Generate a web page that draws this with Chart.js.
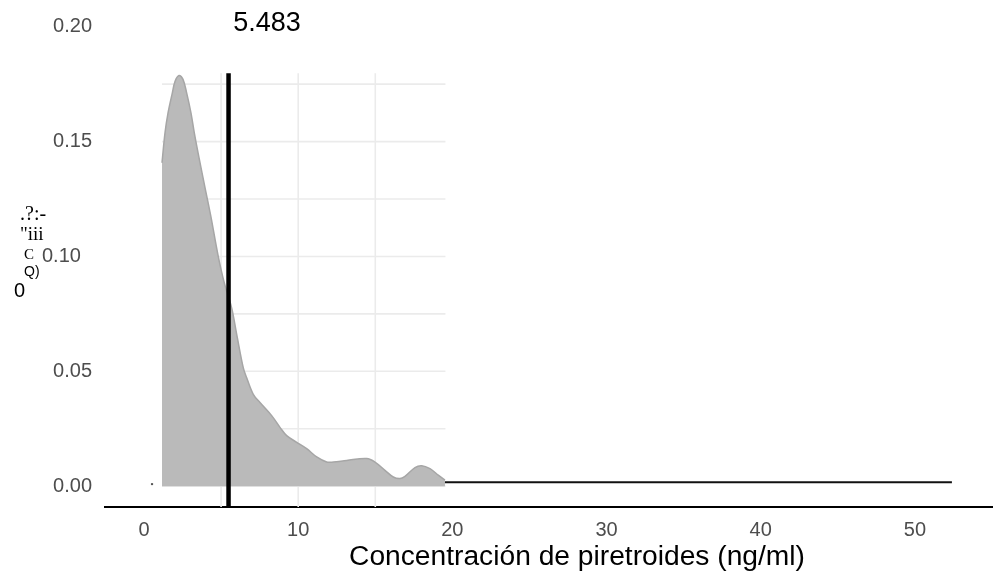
<!DOCTYPE html>
<html>
<head>
<meta charset="utf-8">
<style>
html,body{margin:0;padding:0;background:#fff;}
canvas{display:block;}
</style>
<script src="https://cdn.jsdelivr.net/npm/chart.js@4/dist/chart.umd.min.js"></script>
</head>
<body>
<canvas id="c" width="997" height="582"></canvas>
<script>
// ---- data ----
const densityX = [1.167, 1.362, 1.556, 1.835, 2.010, 2.270, 2.529, 2.769, 3.048, 3.262, 3.567, 3.956, 4.345, 4.799, 5.188, 5.687, 6.012, 6.440, 6.660, 7.088, 7.523, 8.281, 8.820, 9.254, 9.903, 10.551, 11.200, 11.848, 12.276, 13.145, 14.442, 14.981, 15.629, 16.167, 16.602, 16.926, 17.575, 18.009, 18.547, 19.086, 19.520];
const densityY = [0.1408, 0.1538, 0.1624, 0.1711, 0.1762, 0.1788, 0.1771, 0.1711, 0.1624, 0.1538, 0.1430, 0.1300, 0.1171, 0.1006, 0.0890, 0.0775, 0.0661, 0.0515, 0.0472, 0.0400, 0.0364, 0.0307, 0.0256, 0.0220, 0.0191, 0.0163, 0.0127, 0.0105, 0.0105, 0.0112, 0.0120, 0.0105, 0.0069, 0.0040, 0.0033, 0.0043, 0.0081, 0.0089, 0.0076, 0.0048, 0.0026];
const meanValue = 5.483;
const meanLineTop = 0.1797;
const tailX = [19.52, 52.4];
const tailY = [0.0017, 0.0017];
const strayPointX = [0.52];
const strayPointY = [0.0009];
const xTicks = [0, 10, 20, 30, 40, 50];
const yTicks = [0, 0.05, 0.10, 0.15, 0.20];
const gridX = [5, 10, 15];
const gridY = [0, 0.025, 0.05, 0.075, 0.10, 0.125, 0.15, 0.175];
const panelX = [1.167, 19.55];
const xTitle = 'Concentración de piretroides (ng/ml)';
const topLabel = '5.483';
const yTitleBits = ['.?:-', '"iii', 'C', 'Q)', '0'];

const X_MIN = -2.53, X_MAX = 55;
const Y_MIN = -0.00907, Y_MAX = 0.2099;

const SANS = '"Liberation Sans", Arial, sans-serif';
const SERIF = '"Liberation Serif", "Times New Roman", serif';

const panelGrid = {
  id: 'panelGrid',
  beforeDatasetsDraw(chart) {
    const {ctx, scales: {x, y}} = chart;
    ctx.save();
    ctx.strokeStyle = '#ebebeb';
    ctx.lineWidth = 1.6;
    const top = y.getPixelForValue(meanLineTop);
    const bottom = chart.chartArea.bottom;
    gridX.forEach(v => {
      const px = x.getPixelForValue(v);
      ctx.beginPath(); ctx.moveTo(px, top); ctx.lineTo(px, bottom); ctx.stroke();
    });
    const l = x.getPixelForValue(panelX[0]), r = x.getPixelForValue(panelX[1]);
    gridY.forEach(v => {
      const py = y.getPixelForValue(v);
      ctx.beginPath(); ctx.moveTo(l, py); ctx.lineTo(r, py); ctx.stroke();
    });
    ctx.restore();
  }
};

const texts = {
  id: 'texts',
  afterDraw(chart) {
    const ctx = chart.ctx;
    ctx.save();
    ctx.fillStyle = '#000';
    ctx.textBaseline = 'middle';
    ctx.textAlign = 'center';
    ctx.font = '27px ' + SANS;
    ctx.fillText(topLabel, 267, 24);
    let fs = 27;
    ctx.font = fs + 'px ' + SANS;
    const w = ctx.measureText(xTitle).width;
    fs = Math.max(20, Math.min(30, fs * 456 / w));
    ctx.font = fs.toFixed(1) + 'px ' + SANS;
    ctx.fillText(xTitle, 577, 557);
    ctx.textAlign = 'left';
    ctx.font = '20px ' + SERIF;
    ctx.fillText(yTitleBits[0], 20, 215);
    ctx.font = '19px ' + SERIF;
    ctx.fillText(yTitleBits[1], 20, 235);
    ctx.font = '15px ' + SERIF;
    ctx.fillText(yTitleBits[2], 24, 255);
    ctx.font = '14px ' + SANS;
    ctx.fillText(yTitleBits[3], 24, 272);
    ctx.font = '20px ' + SANS;
    ctx.fillText(yTitleBits[4], 14, 291);
    ctx.restore();
  }
};

const zip = (xs, ys) => xs.map((v, i) => ({x: v, y: ys[i]}));

new Chart(document.getElementById('c'), {
  type: 'scatter',
  data: {
    datasets: [
      {
        data: zip(densityX, densityY),
        showLine: true, fill: 'origin',
        backgroundColor: '#bababa', borderColor: '#a6a6a6', borderWidth: 1.5,
        pointRadius: 0, tension: 0.35, order: 3
      },
      {
        data: [{x: meanValue, y: Y_MIN}, {x: meanValue, y: meanLineTop}],
        showLine: true, borderColor: '#000', borderWidth: 4.5,
        pointRadius: 0, order: 0
      },
      {
        data: zip(tailX, tailY),
        showLine: true, borderColor: '#111', borderWidth: 2,
        pointRadius: 0, order: 1
      },
      {
        data: zip(strayPointX, strayPointY),
        showLine: false, pointRadius: 1.2, backgroundColor: '#555', borderWidth: 0, order: 1
      }
    ]
  },
  options: {
    responsive: false,
    animation: false,
    devicePixelRatio: 1,
    layout: {padding: {left: 0, right: 5, top: 0, bottom: 0}},
    plugins: {legend: {display: false}, tooltip: {enabled: false}},
    scales: {
      x: {
        type: 'linear', min: X_MIN, max: X_MAX,
        grid: {display: false, drawTicks: false},
        border: {display: true, color: '#000', width: 2},
        ticks: {font: {size: 20, family: SANS}, color: '#4d4d4d', padding: 11, autoSkip: false, maxRotation: 0,
                callback: v => String(v)},
        afterBuildTicks: s => { s.ticks = xTicks.map(v => ({value: v})); },
        afterFit: s => { s.height = 75; s.paddingLeft = 0; s.paddingRight = 0; }
      },
      y: {
        type: 'linear', min: Y_MIN, max: Y_MAX,
        grid: {display: false, drawTicks: false},
        border: {display: false},
        ticks: {font: {size: 20, family: SANS}, color: '#4d4d4d', padding: 13,
                callback: v => v.toFixed(2) + (Math.abs(v - 0.1) < 1e-9 ? '  ' : '')},
        afterBuildTicks: s => { s.ticks = yTicks.map(v => ({value: v})); },
        afterFit: s => { s.width = 105; s.paddingTop = 0; s.paddingBottom = 0; }
      }
    }
  },
  plugins: [panelGrid, texts]
});
</script>
</body>
</html>
